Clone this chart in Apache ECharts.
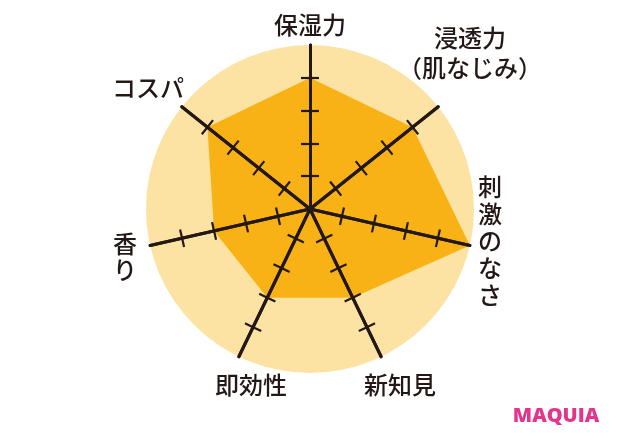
<!DOCTYPE html>
<html>
<head>
<meta charset="utf-8">
<script src="https://cdn.jsdelivr.net/npm/echarts@6/dist/echarts.min.js"></script>
<style>
  html, body { margin: 0; padding: 0; background: #fff; }
  #chart { width: 620px; height: 444px; }
</style>
</head>
<body>
<div id="chart"></div>
<script>
// indicators go counterclockwise from the top in ECharts radar
var indicatorNames = ["保湿力", "コスパ", "香り", "即効性", "新知見", "刺激のなさ", "浸透力（肌なじみ）"];
var scoreValues = [4, 4, 3, 3, 3, 5, 4];
var scoreMax = 5;
var tickValues = [1, 2, 3, 4];

var inkColor = "#231815";
var center = [310, 209];
var radius = 164;

var indicators = indicatorNames.map(function (name) {
  return { name: name, min: 0, max: scoreMax };
});

// shared radar geometry, each layer switches its own parts on
function radarLayer(extra) {
  var base = {
    indicator: indicators,
    center: center,
    radius: radius,
    startAngle: 90,
    shape: "circle",
    splitNumber: scoreMax,
    axisName: { show: false },
    axisLine: { show: false },
    axisTick: { show: false },
    axisLabel: { show: false },
    splitLine: { show: false },
    splitArea: { show: false },
  };
  return Object.assign(base, extra);
}

function tickStyle(len) {
  return {
    show: true,
    length: len,
    customValues: tickValues,
    lineStyle: { color: inkColor, width: 2.2 },
  };
}

var chart = echarts.init(document.getElementById("chart"), null, { renderer: "canvas" });

function label(text, x, y, extra) {
  return {
    type: "text",
    x: x,
    y: y,
    z: 10,
    style: Object.assign({
      text: text,
      fill: inkColor,
      font: '500 24px "Noto Sans CJK JP"',
      align: "center",
      verticalAlign: "middle",
    }, extra || {}),
  };
}

chart.setOption({
  animation: false,
  radar: [
    // background disc
    radarLayer({
      z: 0,
      splitArea: { show: true, areaStyle: { color: ["#FDE3A3"], opacity: 1 } },
    }),
    // axis lines with ticks on one side
    radarLayer({
      z: 3,
      axisLine: { show: true, lineStyle: { color: inkColor, width: 3 } },
      axisTick: tickStyle(9),
    }),
    // ticks on the other side
    radarLayer({
      z: 3,
      axisLine: { show: true, lineStyle: { color: inkColor, width: 3 } },
      axisTick: tickStyle(-9),
    }),
  ],
  series: [
    {
      type: "radar",
      radarIndex: 0,
      z: 1,
      symbol: "none",
      lineStyle: { width: 0 },
      areaStyle: { color: "#F9B215", opacity: 1 },
      data: [{ value: scoreValues }],
    },
  ],
  graphic: [
    label("保湿力", 310, 25),
    label("浸透力", 470, 38),
    label("（肌なじみ）", 470, 68),
    label("刺\n激\nの\nな\nさ", 490, 241, { lineHeight: 27 }),
    label("新知見", 400, 385),
    label("即効性", 251, 385),
    label("香\nり", 125, 257, { lineHeight: 26 }),
    label("コスパ", 148, 88),
    label("MAQUIA", 556, 416, {
      fill: "#E4348B",
      font: '800 20px "Open Sans"',
    }),
  ],
});
</script>
</body>
</html>
